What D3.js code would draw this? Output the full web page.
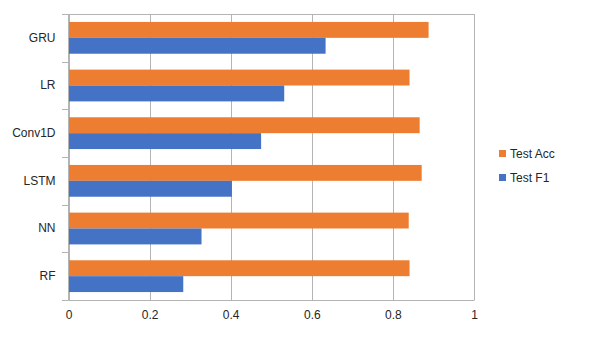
<!DOCTYPE html>
<html><head><meta charset="utf-8">
<script src="https://cdn.jsdelivr.net/npm/d3@7"></script>
<style>body{margin:0;background:#fff}svg{display:block}text{font-family:"Liberation Sans",Arial,sans-serif;fill:#262626}</style>
</head><body><svg id="c" width="605" height="340"></svg>
<script>
const categories = ["GRU","LR","Conv1D","LSTM","NN","RF"];
const testAcc = [0.888,0.841,0.866,0.871,0.839,0.841];
const testF1 = [0.634,0.532,0.475,0.403,0.328,0.283];
const seriesNames = ["Test Acc","Test F1"];
const seriesColors = ["#ED7D31","#4472C4"];
const xTicks = [0,0.2,0.4,0.6,0.8,1];

const svg = d3.select("#c");
const x = d3.scaleLinear().domain([0,1]).range([68.5,474]);
const y = d3.scaleBand().domain(categories).range([14,300]).paddingInner(0).paddingOuter(0);
const inner = d3.scaleBand().domain(seriesNames).range([0,y.bandwidth()]).paddingInner(0).paddingOuter(0.5);
const grid = "#B4B4B4";

// gridlines
svg.append("g").selectAll("line").data(xTicks).join("line")
  .attr("x1",d=>Math.round(x(d))+0.5).attr("x2",d=>Math.round(x(d))+0.5)
  .attr("y1",14).attr("y2",300).attr("stroke",grid).attr("stroke-width",1);
svg.append("line").attr("x1",68.5).attr("x2",474.5).attr("y1",14.5).attr("y2",14.5).attr("stroke",grid);

// bars
const data = categories.map((c,i)=>({c, vals:[testAcc[i],testF1[i]]}));
const g = svg.append("g");
data.forEach(d=>{
  d.vals.forEach((v,j)=>{
    g.append("rect").attr("x",x(0)).attr("y",y(d.c)+inner(seriesNames[j]))
      .attr("width",x(v)-x(0)).attr("height",inner.bandwidth()).attr("fill",seriesColors[j]);
  });
});

// y axis
const yAxis = svg.append("g").attr("transform","translate(68.5,0)")
  .call(d3.axisLeft(y).tickSize(0).tickPadding(13));
yAxis.select(".domain").attr("stroke",grid).attr("d","M0,14V300");
yAxis.selectAll("text").style("font-size","12px").attr("fill","#262626");
// category boundary ticks
const bounds = categories.map(c=>y(c)).concat([300]);
svg.append("g").selectAll("line").data(bounds).join("line")
  .attr("x1",62).attr("x2",68.5).attr("y1",d=>Math.round(d)+0.5).attr("y2",d=>Math.round(d)+0.5).attr("stroke",grid);

// x axis
const xAxis = svg.append("g").attr("transform","translate(0,300.5)")
  .call(d3.axisBottom(x).tickValues(xTicks).tickFormat(d3.format("")).tickSize(0).tickPadding(10));
xAxis.select(".domain").attr("stroke",grid).attr("d","M68.5,0H474.5");
xAxis.selectAll("text").style("font-size","12px").attr("fill","#262626");

// legend
const leg = svg.append("g");
seriesNames.forEach((s,i)=>{
  const yy = 150 + i*24;
  leg.append("rect").attr("x",499).attr("y",yy).attr("width",7).attr("height",7).attr("fill",seriesColors[i]);
  leg.append("text").attr("x",510).attr("y",yy+3.5).attr("dy","0.35em").style("font-size","12px").text(s);
});
</script></body></html>
